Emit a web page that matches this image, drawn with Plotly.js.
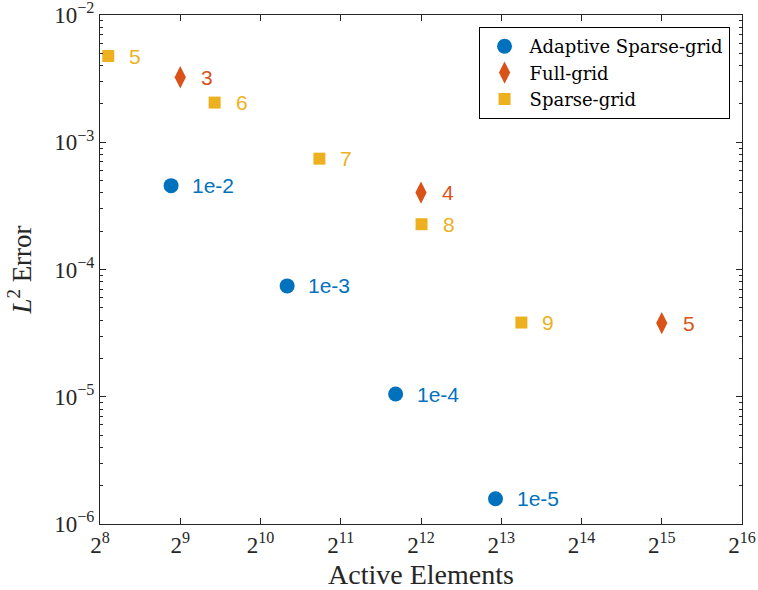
<!DOCTYPE html>
<html>
<head>
<meta charset="utf-8">
<script src="https://cdn.plot.ly/plotly-3.0.1.min.js"></script>
<style>
  html, body { margin: 0; padding: 0; background: #fff; }
  #chart { width: 758px; height: 590px; }
</style>
</head>
<body>
<div id="chart"></div>
<script>
// Adaptive sparse grid: active elements vs L2 error, labelled by tolerance
const adaptiveElems = [473, 1289, 3290, 7795];
const adaptiveError = [4.56e-4, 7.43e-5, 1.05e-5, 1.58e-6];
const adaptiveLabels = ['1e-2', '1e-3', '1e-4', '1e-5'];

// Full grid, labelled by level
const fullElems = [512, 4096, 32768];
const fullError = [3.24e-3, 4.02e-4, 3.79e-5];
const fullLabels = ['3', '4', '5'];

// Sparse grid, labelled by level
const sparseElems = [275, 689, 1703, 4116, 9749];
const sparseError = [4.76e-3, 2.05e-3, 7.43e-4, 2.27e-4, 3.83e-5];
const sparseLabels = ['5', '6', '7', '8', '9'];

// Axis ticks
const xExponents = [8, 9, 10, 11, 12, 13, 14, 15, 16];
const yExponents = [-6, -5, -4, -3, -2];

const BLUE = '#0072BD', RED = '#D95319', YELLOW = '#EDB120';
const AXIS = '#262626';
const SERIF = 'Liberation Serif, Times New Roman, serif';
const SANS = 'Liberation Sans, Arial, sans-serif';

const traces = [
  { x: adaptiveElems, y: adaptiveError, name: 'Adaptive Sparse-grid', type: 'scatter', mode: 'markers',
    marker: { symbol: 'circle', size: 15, color: BLUE }, cliponaxis: false },
  { x: fullElems, y: fullError, name: 'Full-grid', type: 'scatter', mode: 'markers',
    marker: { symbol: 'diamond-tall', size: 16, color: RED }, cliponaxis: false },
  { x: sparseElems, y: sparseError, name: 'Sparse-grid', type: 'scatter', mode: 'markers',
    marker: { symbol: 'square', size: 12, color: YELLOW }, cliponaxis: false }
];

// Point labels placed just right of each marker
const annotations = [];
function addLabels(xs, ys, labels, color) {
  xs.forEach((xv, i) => {
    annotations.push({
      x: Math.log10(xv), y: Math.log10(ys[i]), xref: 'x', yref: 'y',
      text: labels[i], showarrow: false, xanchor: 'left', yanchor: 'middle',
      xshift: 19, font: { family: SANS, size: 21, color: color }
    });
  });
}
addLabels(adaptiveElems, adaptiveError, adaptiveLabels, BLUE);
addLabels(fullElems, fullError, fullLabels, RED);
addLabels(sparseElems, sparseError, sparseLabels, YELLOW);

// Minor tick positions on the error axis: 2..9 x 10^k
const yMinor = [];
for (let k = -6; k < -2; k++) for (let m = 2; m <= 9; m++) yMinor.push(m * Math.pow(10, k));

const layout = {
  width: 758, height: 590,
  margin: { l: 100, r: 16, t: 15, b: 66 },
  paper_bgcolor: '#fff', plot_bgcolor: '#fff',
  showlegend: true,
  legend: {
    x: 0.9806, y: 0.9764, xanchor: 'right', yanchor: 'top',
    bordercolor: '#000', borderwidth: 1, bgcolor: '#fff',
    font: { family: 'DejaVu Serif, serif', size: 18, color: '#000' },
    itemsizing: 'trace', itemwidth: 40, tracegroupgap: 0
  },
  xaxis: {
    type: 'log', range: [Math.log10(256), Math.log10(65536)],
    tickmode: 'array',
    tickvals: xExponents.map(e => Math.pow(2, e)),
    ticktext: xExponents.map(e => '2<sup>' + e + '</sup>'),
    ticks: 'inside', ticklen: 6, tickwidth: 1, tickcolor: AXIS,
    showline: true, linecolor: AXIS, linewidth: 1, mirror: 'ticks',
    showgrid: false, zeroline: false, ticklabeloverflow: 'allow',
    tickfont: { family: SERIF, size: 23, color: AXIS },
    title: { text: 'Active Elements', font: { family: SERIF, size: 28, color: AXIS }, standoff: 8 }
  },
  yaxis: {
    type: 'log', range: [-6, -2],
    tickmode: 'array',
    tickvals: yExponents.map(e => Math.pow(10, e)),
    ticktext: yExponents.map(e => '10<sup>\u2212' + Math.abs(e) + '</sup>'),
    ticks: 'inside', ticklen: 6, tickwidth: 1, tickcolor: AXIS,
    minor: { tickmode: 'array', tickvals: yMinor, ticks: 'inside', ticklen: 3, tickcolor: AXIS, showgrid: false },
    showline: true, linecolor: AXIS, linewidth: 1, mirror: 'ticks',
    showgrid: false, zeroline: false, ticklabeloverflow: 'allow',
    tickfont: { family: SERIF, size: 23, color: AXIS },
    title: { text: '<i>L</i><sup>2</sup> Error', font: { family: SERIF, size: 27, color: AXIS }, standoff: 14 }
  },
  annotations: annotations
};

Plotly.newPlot('chart', traces, layout, { displayModeBar: false, staticPlot: true });
</script>
</body>
</html>
